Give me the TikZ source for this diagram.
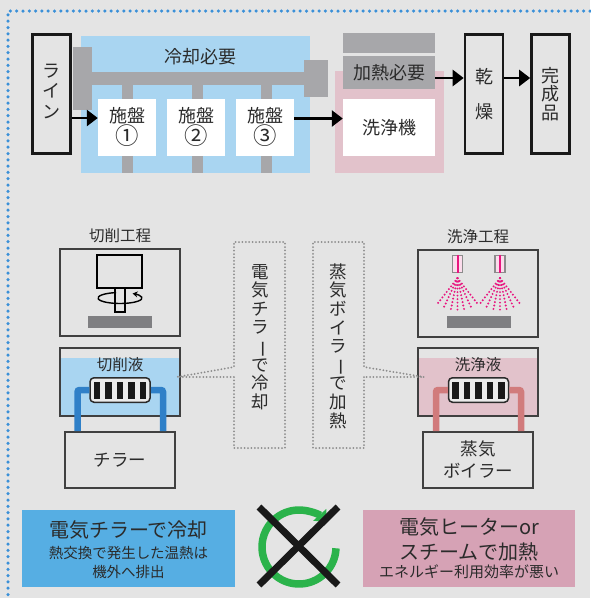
\documentclass[tikz,border=0pt]{standalone}
\usepackage{fontspec}
\setmainfont{Noto Sans CJK JP}
\usetikzlibrary{positioning,calc,arrows.meta}

\definecolor{backdrop}{HTML}{E4E4E4}
\definecolor{ink}{HTML}{2B2B2B}
\definecolor{coolblue}{HTML}{A9D5F1}
\definecolor{warmpink}{HTML}{E2C2CB}
\definecolor{pipegray}{HTML}{A7A7AA}
\definecolor{workgray}{HTML}{7F7F82}
\definecolor{dotblue}{HTML}{3A90D8}
\definecolor{chillblue}{HTML}{56AEE3}
\definecolor{heatpink}{HTML}{D6A2B5}
\definecolor{loopgreen}{HTML}{2BB34B}
\definecolor{waterblue}{HTML}{2F80C8}
\definecolor{steamred}{HTML}{D17B7C}
\definecolor{jetpink}{HTML}{E8167F}

% long vowel mark for vertical text
\newcommand{\tatebar}{\rotatebox[origin=c]{-90}{ー}}
% larger circled numbers
\newcommand{\maru}[1]{\raisebox{-0.12em}{\scalebox{1.3}{#1}}}

\begin{document}
\begin{tikzpicture}[x=1pt,y=-1pt,
        stage/.style={draw=black!90, line width=2.6pt, fill=backdrop, minimum width=38pt, minimum height=119pt, inner sep=0pt, align=center, text=ink, font=\fontsize{18}{20}\selectfont},
        machine/.style={fill=white, minimum width=58pt, minimum height=57pt, inner sep=0pt, align=center, text=ink, font=\fontsize{18}{20}\selectfont},
        tag/.style={text=ink, inner sep=0pt, font=\fontsize{15.5}{17}\selectfont},
        panel/.style={draw=ink!90, line width=2pt, minimum width=120pt, inner sep=0pt},
        heater/.style={draw=ink, line width=1.5pt, fill=black!8, rounded corners=4pt, minimum width=60pt, minimum height=24.5pt},
        flow/.style={line width=2.6pt, -{Triangle[length=11pt,width=16pt]}},
        bubble/.style={draw=black!45, line width=2pt, dash pattern=on 0pt off 3.4pt, line cap=round},
        jet/.style={jetpink, line width=2.2pt, dash pattern=on 0pt off 3.5pt, line cap=round},
        tate/.style={text=ink, align=center, inner sep=0pt, font=\fontsize{17.5}{18.6}\selectfont}
    ]
        % Backdrop and frame
        \fill[backdrop] (0,0) rectangle (590,598);
        \useasboundingbox (0,0) rectangle (590,598);
        \draw[dotblue, line width=3.5pt, dash pattern=on 0pt off 6.3pt, line cap=round] (590,11) -- (8,11) -- (8,598);


        % Line
        \fill[coolblue] (81,36) rectangle (310,173);
        \fill[warmpink] (335,71) rectangle (444,173);
        \fill[pipegray] (73,47) rectangle (92,110);
        \fill[pipegray] (92,72) rectangle (304,85);
        \fill[pipegray] (304,60) rectangle (328,97);
        \foreach \x in {122,192,261}
            \fill[pipegray] (\x,85) rectangle (\x+11,173);

        \node (coolneed) at (200,57) [tag, font=\fontsize{18}{20}\selectfont] {冷却必要};
        \node (m1) at (127,127) [machine] {施盤\\\maru{①}};
        \node (m2) at (196,127) [machine] {施盤\\\maru{②}};
        \node (m3) at (265,127) [machine] {施盤\\\maru{③}};

        \fill[pipegray] (343,33) rectangle (435,53);
        \node (heatneed) at (389,72.5) [machine, fill=pipegray, minimum width=92pt, minimum height=33pt] {加熱必要};
        \node (washer) at (389,127.5) [machine, minimum width=92pt] {洗浄機};

        \node (line) at (51.5,94) [stage] {};
            \node (linetext) at ([yshift=3pt]line.center) [tate, font=\fontsize{18}{20.5}\selectfont] {ラ\\イ\\ン};
        \node (dry) at (484,94) [stage] {乾\\[15pt]燥};
        \node (done) at (550.5,94) [stage, font=\fontsize{18}{18.3}\selectfont] {完\\成\\品};

        \coordinate (in1) at ($(m1.west)+(0,-9)$);
        \coordinate (in2) at ($(washer.west)+(0,-9)$);
        \coordinate (out1) at ($(heatneed.east)+(0,5.5)$);
        \draw[flow] (line.east |- in1) -- (in1);
        \draw[flow] (m3.east |- in2) -- (in2);
        \draw[flow] (out1) -- (dry.west |- out1);
        \draw[flow] (dry.east |- out1) -- (done.west |- out1);


        % Cutting
        \node (cuttitle) at (120,236) [tag] {切削工程};
        \node (cutbox) at (120,292.5) [panel, minimum height=87pt] {};
            \draw[line width=1.2pt] (97,255) rectangle (142,288);
            \draw[line width=1.2pt] (115,288) rectangle (125,312);
            \draw[line width=1.4pt, -{Stealth[length=5pt,width=6pt]}] (120,298) ++(260:22 and 5.5)
                arc[start angle=260, end angle=-55, x radius=22, y radius=5.5];
            \fill[workgray] (88,316) rectangle (152,328);

        \fill[coolblue] (60,358) rectangle (180,416);
        \node (tank1) at (120,382) [panel, minimum height=68pt] {};
        \node (fluid1) at (120,365) [tag] {切削液};
        \node (chiller) at (120,460) [panel, minimum width=110pt, minimum height=56pt, text=ink, font=\fontsize{17.5}{20}\selectfont] {チラー};
        \node (coil1) at (120,390) [heater] {};
        \draw[waterblue, line width=6.5pt, rounded corners=2pt] ([xshift=-42.5pt]chiller.north) |- (coil1.west);
        \draw[waterblue, line width=6.5pt, rounded corners=2pt] (coil1.east) -| ([xshift=43pt]chiller.north);
        \foreach \dx in {-23,-11.5,0,11.5,23}
            \fill[black!90] ($(coil1.center)+(\dx-3.2,-8.5)$) rectangle ($(coil1.center)+(\dx+3.2,8.5)$);

        \coordinate (tip1) at ($(tank1.east)+(-4,-5)$);
        \draw[bubble] (234,377) -- (234,448) -- (285,448) -- (285,242) -- (234,242) -- (234,367) -- (tip1) -- (234,377);
        \node (chilltext) at (260,337) [tate] {電\\気\\チ\\ラ\\\tatebar\\で\\冷\\却};


        % Washing
        \node (washtitle) at (478,237) [tag] {洗浄工程};
        \node (washbox) at (478,293) [panel, minimum height=87pt] {};
        \foreach \x/\n in {457.5/1,500/2} {
            \node (nozzle\n) at (\x,264) [draw=black!45, line width=1.2pt, fill=white!85!jetpink, minimum width=10pt, minimum height=17pt, inner sep=0pt] {};
            \draw[jetpink, line width=2pt] (nozzle\n.north) -- (nozzle\n.south);
            \coordinate (apex\n) at ($(nozzle\n.south)+(0,5)$);
            \foreach \a in {52,65,78,90,102,115,128}
                \draw[jet] (apex\n) -- ++(\a:34);
        }
        \fill[workgray] (447,316) rectangle (511,328);

        \fill[warmpink] (418,358) rectangle (538,416);
        \node (tank2) at (478,382) [panel, minimum height=68pt] {};
        \node (fluid2) at (478,365) [tag] {洗浄液};
        \node (boiler) at (478,460) [panel, minimum width=110pt, minimum height=56pt, align=center, text=ink, font=\fontsize{17.5}{22}\selectfont] {蒸気\\ボイラー};
        \node (coil2) at (478.5,390) [heater] {};
        \draw[steamred, line width=6.5pt, rounded corners=2pt] ([xshift=-42pt]boiler.north) |- (coil2.west);
        \draw[steamred, line width=6.5pt, rounded corners=2pt] (coil2.east) -| ([xshift=43pt]boiler.north);
        \foreach \dx in {-23,-11.5,0,11.5,23}
            \fill[black!90] ($(coil2.center)+(\dx-3.2,-8.5)$) rectangle ($(coil2.center)+(\dx+3.2,8.5)$);

        \coordinate (tip2) at ($(tank2.west)+(7,-5)$);
        \draw[bubble] (364,377) -- (364,448) -- (313,448) -- (313,242) -- (364,242) -- (364,367) -- (tip2) -- (364,377);
        \node (steamtext) at (338.5,346) [tate] {蒸\\気\\ボ\\イ\\ラ\\\tatebar\\で\\加\\熱};


        % Summary
        \node (cooling) at (128.5,548.5) [fill=chillblue, minimum width=213pt, minimum height=77pt, inner sep=0pt] {};
        \node (coolhead) at (128.5,530) [tag, font=\fontsize{20}{22}\selectfont] {電気チラーで冷却};
        \node (coolnote) at (128.5,562.5) [tag, align=center, font=\fontsize{14.5}{19}\selectfont] {熱交換で発生した温熱は\\機外へ排出};

        \node (heating) at (469,548.5) [fill=heatpink, minimum width=212pt, minimum height=77pt, inner sep=0pt] {};
        \node (heathead) at (469,539.5) [tag, align=center, font=\fontsize{20}{25}\selectfont] {電気ヒーターor\\スチームで加熱};
        \node (heatnote) at (469,572) [tag, font=\fontsize{15}{17}\selectfont] {エネルギー利用効率が悪い};

        \draw[loopgreen, line width=7.5pt, -{Triangle[length=10pt,width=17pt]}] (299,547) ++(2:37)
            arc[start angle=2, end angle=318, radius=37];
        \draw[black!90, line width=7pt] (259,507) -- (338,585) (338,507) -- (259,585);
    \end{tikzpicture}
\end{document}
